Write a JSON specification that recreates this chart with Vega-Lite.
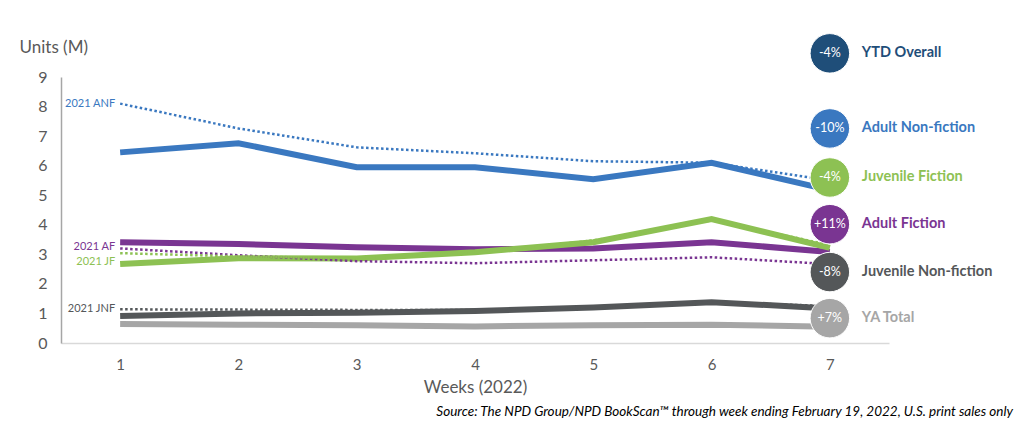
{
  "$schema": "https://vega.github.io/schema/vega-lite/v6.json",
  "autosize": {"type": "none"},
  "padding": {"left": 61, "top": 77, "right": 135, "bottom": 93},
  "width": 828,
  "height": 266,
  "background": "white",
  "config": {
    "view": {"stroke": null},
    "font": "Lato",
    "axis": {"labelFont": "Lato", "titleFont": "Lato", "grid": false, "ticks": false, "domainColor": "#BFBFBF", "domainWidth": 1.5, "labelColor": "#595959", "titleColor": "#595959", "titleFontWeight": "normal"}
  },
  "title": {
    "text": "Source: The NPD Group/NPD BookScan™ through week ending February 19, 2022, U.S. print sales only",
    "orient": "bottom",
    "anchor": "end",
    "frame": "group",
    "fontStyle": "italic",
    "fontWeight": "normal",
    "fontSize": 13.5,
    "font": "Lato",
    "color": "#000000",
    "offset": 10,
    "dx": 124
  },
  "datasets": {
    "lines": [
      {"series": "Adult Non-fiction", "year": "2022", "week": 1, "value": 6.45},
      {"series": "Adult Non-fiction", "year": "2022", "week": 2, "value": 6.76},
      {"series": "Adult Non-fiction", "year": "2022", "week": 3, "value": 5.95},
      {"series": "Adult Non-fiction", "year": "2022", "week": 4, "value": 5.95},
      {"series": "Adult Non-fiction", "year": "2022", "week": 5, "value": 5.54},
      {"series": "Adult Non-fiction", "year": "2022", "week": 6, "value": 6.1},
      {"series": "Adult Non-fiction", "year": "2022", "week": 7, "value": 5.17},
      {"series": "Adult Non-fiction", "year": "2021", "week": 1, "value": 8.1},
      {"series": "Adult Non-fiction", "year": "2021", "week": 2, "value": 7.26},
      {"series": "Adult Non-fiction", "year": "2021", "week": 3, "value": 6.62},
      {"series": "Adult Non-fiction", "year": "2021", "week": 4, "value": 6.42},
      {"series": "Adult Non-fiction", "year": "2021", "week": 5, "value": 6.15},
      {"series": "Adult Non-fiction", "year": "2021", "week": 6, "value": 6.1},
      {"series": "Adult Non-fiction", "year": "2021", "week": 7, "value": 5.5},
      {"series": "Adult Fiction", "year": "2022", "week": 1, "value": 3.41},
      {"series": "Adult Fiction", "year": "2022", "week": 2, "value": 3.35},
      {"series": "Adult Fiction", "year": "2022", "week": 3, "value": 3.24},
      {"series": "Adult Fiction", "year": "2022", "week": 4, "value": 3.17},
      {"series": "Adult Fiction", "year": "2022", "week": 5, "value": 3.2},
      {"series": "Adult Fiction", "year": "2022", "week": 6, "value": 3.41},
      {"series": "Adult Fiction", "year": "2022", "week": 7, "value": 3.08},
      {"series": "Adult Fiction", "year": "2021", "week": 1, "value": 3.2},
      {"series": "Adult Fiction", "year": "2021", "week": 2, "value": 2.97},
      {"series": "Adult Fiction", "year": "2021", "week": 3, "value": 2.77},
      {"series": "Adult Fiction", "year": "2021", "week": 4, "value": 2.7},
      {"series": "Adult Fiction", "year": "2021", "week": 5, "value": 2.8},
      {"series": "Adult Fiction", "year": "2021", "week": 6, "value": 2.9},
      {"series": "Adult Fiction", "year": "2021", "week": 7, "value": 2.67},
      {"series": "Juvenile Fiction", "year": "2022", "week": 1, "value": 2.67},
      {"series": "Juvenile Fiction", "year": "2022", "week": 2, "value": 2.87},
      {"series": "Juvenile Fiction", "year": "2022", "week": 3, "value": 2.86},
      {"series": "Juvenile Fiction", "year": "2022", "week": 4, "value": 3.07},
      {"series": "Juvenile Fiction", "year": "2022", "week": 5, "value": 3.41},
      {"series": "Juvenile Fiction", "year": "2022", "week": 6, "value": 4.19},
      {"series": "Juvenile Fiction", "year": "2022", "week": 7, "value": 3.22},
      {"series": "Juvenile Fiction", "year": "2021", "week": 1, "value": 3.04},
      {"series": "Juvenile Fiction", "year": "2021", "week": 2, "value": 2.93},
      {"series": "Juvenile Fiction", "year": "2021", "week": 3, "value": 2.87},
      {"series": "Juvenile Fiction", "year": "2021", "week": 4, "value": 3.05},
      {"series": "Juvenile Fiction", "year": "2021", "week": 5, "value": 3.47},
      {"series": "Juvenile Fiction", "year": "2021", "week": 6, "value": 4.15},
      {"series": "Juvenile Fiction", "year": "2021", "week": 7, "value": 3.32},
      {"series": "Juvenile Non-fiction", "year": "2022", "week": 1, "value": 0.91},
      {"series": "Juvenile Non-fiction", "year": "2022", "week": 2, "value": 1.0},
      {"series": "Juvenile Non-fiction", "year": "2022", "week": 3, "value": 1.02},
      {"series": "Juvenile Non-fiction", "year": "2022", "week": 4, "value": 1.08},
      {"series": "Juvenile Non-fiction", "year": "2022", "week": 5, "value": 1.2},
      {"series": "Juvenile Non-fiction", "year": "2022", "week": 6, "value": 1.38},
      {"series": "Juvenile Non-fiction", "year": "2022", "week": 7, "value": 1.17},
      {"series": "Juvenile Non-fiction", "year": "2021", "week": 1, "value": 1.14},
      {"series": "Juvenile Non-fiction", "year": "2021", "week": 2, "value": 1.13},
      {"series": "Juvenile Non-fiction", "year": "2021", "week": 3, "value": 1.12},
      {"series": "Juvenile Non-fiction", "year": "2021", "week": 4, "value": 1.12},
      {"series": "Juvenile Non-fiction", "year": "2021", "week": 5, "value": 1.2},
      {"series": "Juvenile Non-fiction", "year": "2021", "week": 6, "value": 1.38},
      {"series": "Juvenile Non-fiction", "year": "2021", "week": 7, "value": 1.25},
      {"series": "YA Total", "year": "2022", "week": 1, "value": 0.64},
      {"series": "YA Total", "year": "2022", "week": 2, "value": 0.62},
      {"series": "YA Total", "year": "2022", "week": 3, "value": 0.6},
      {"series": "YA Total", "year": "2022", "week": 4, "value": 0.56},
      {"series": "YA Total", "year": "2022", "week": 5, "value": 0.6},
      {"series": "YA Total", "year": "2022", "week": 6, "value": 0.62},
      {"series": "YA Total", "year": "2022", "week": 7, "value": 0.55}
    ],
    "labels2021": [
      {"series": "Adult Non-fiction", "label": "2021 ANF", "week": 1, "value": 8.1},
      {"series": "Adult Fiction", "label": "2021 AF", "week": 1, "value": 3.24},
      {"series": "Juvenile Fiction", "label": "2021 JF", "week": 1, "value": 2.74},
      {"series": "Juvenile Non-fiction", "label": "2021 JNF", "week": 1, "value": 1.14}
    ],
    "bubbles": [
      {"series": "YTD Overall", "change": "-4%", "week": 7, "value": 9.8},
      {"series": "Adult Non-fiction", "change": "-10%", "week": 7, "value": 7.26},
      {"series": "Juvenile Fiction", "change": "-4%", "week": 7, "value": 5.6},
      {"series": "Adult Fiction", "change": "+11%", "week": 7, "value": 4.02},
      {"series": "Juvenile Non-fiction", "change": "-8%", "week": 7, "value": 2.4},
      {"series": "YA Total", "change": "+7%", "week": 7, "value": 0.84}
    ]
  },
  "encoding": {
    "x": {
      "field": "week", "type": "quantitative",
      "scale": {"domain": [0.5, 7.5], "nice": false, "zero": false},
      "axis": {"values": [1, 2, 3, 4, 5, 6, 7], "format": "d", "title": "Weeks (2022)", "labelFontSize": 15, "labelPadding": 14, "titleFontSize": 17, "titlePadding": 7, "domainColor": "#D9D9D9"}
    },
    "y": {
      "field": "value", "type": "quantitative",
      "scale": {"domain": [0, 9], "nice": false},
      "axis": {"values": [0, 1, 2, 3, 4, 5, 6, 7, 8, 9], "title": "Units (M)", "titleAngle": 0, "titleAlign": "left", "titleBaseline": "middle", "titleX": -42, "titleY": -30, "titleFontSize": 17, "labelFontSize": 16, "labelPadding": 14, "domainColor": "#A6A6A6"}
    },
    "color": {
      "field": "series", "type": "nominal",
      "scale": {
        "domain": ["YTD Overall", "Adult Non-fiction", "Juvenile Fiction", "Adult Fiction", "Juvenile Non-fiction", "YA Total"],
        "range": ["#1F4E79", "#3A78C0", "#8DC153", "#7A3592", "#545759", "#A6A6A6"]
      },
      "legend": null
    }
  },
  "layer": [
    {
      "data": {"name": "lines"},
      "transform": [{"filter": "datum.year === '2022'"}],
      "mark": {"type": "line", "strokeWidth": 6, "strokeCap": "butt"},
      "encoding": {"detail": {"field": "series"}}
    },
    {
      "data": {"name": "lines"},
      "transform": [{"filter": "datum.year === '2021'"}],
      "mark": {"type": "line", "strokeWidth": 2.5, "strokeDash": [2.5, 2.5]},
      "encoding": {"detail": {"field": "series"}}
    },
    {
      "data": {"name": "labels2021"},
      "mark": {"type": "text", "align": "right", "baseline": "middle", "dx": -5, "fontSize": 11},
      "encoding": {"text": {"field": "label"}}
    },
    {
      "data": {"name": "bubbles"},
      "mark": {"type": "circle", "size": 1560, "opacity": 1, "stroke": "white", "strokeWidth": 1, "clip": false},
      "encoding": {}
    },
    {
      "data": {"name": "bubbles"},
      "mark": {"type": "text", "align": "center", "baseline": "middle", "fontSize": 12.5, "color": "white"},
      "encoding": {"text": {"field": "change"}, "color": {"value": "white"}}
    },
    {
      "data": {"name": "bubbles"},
      "mark": {"type": "text", "align": "left", "baseline": "middle", "dx": 32, "fontSize": 14.5, "fontWeight": "bold"},
      "encoding": {"text": {"field": "series"}}
    }
  ]
}
